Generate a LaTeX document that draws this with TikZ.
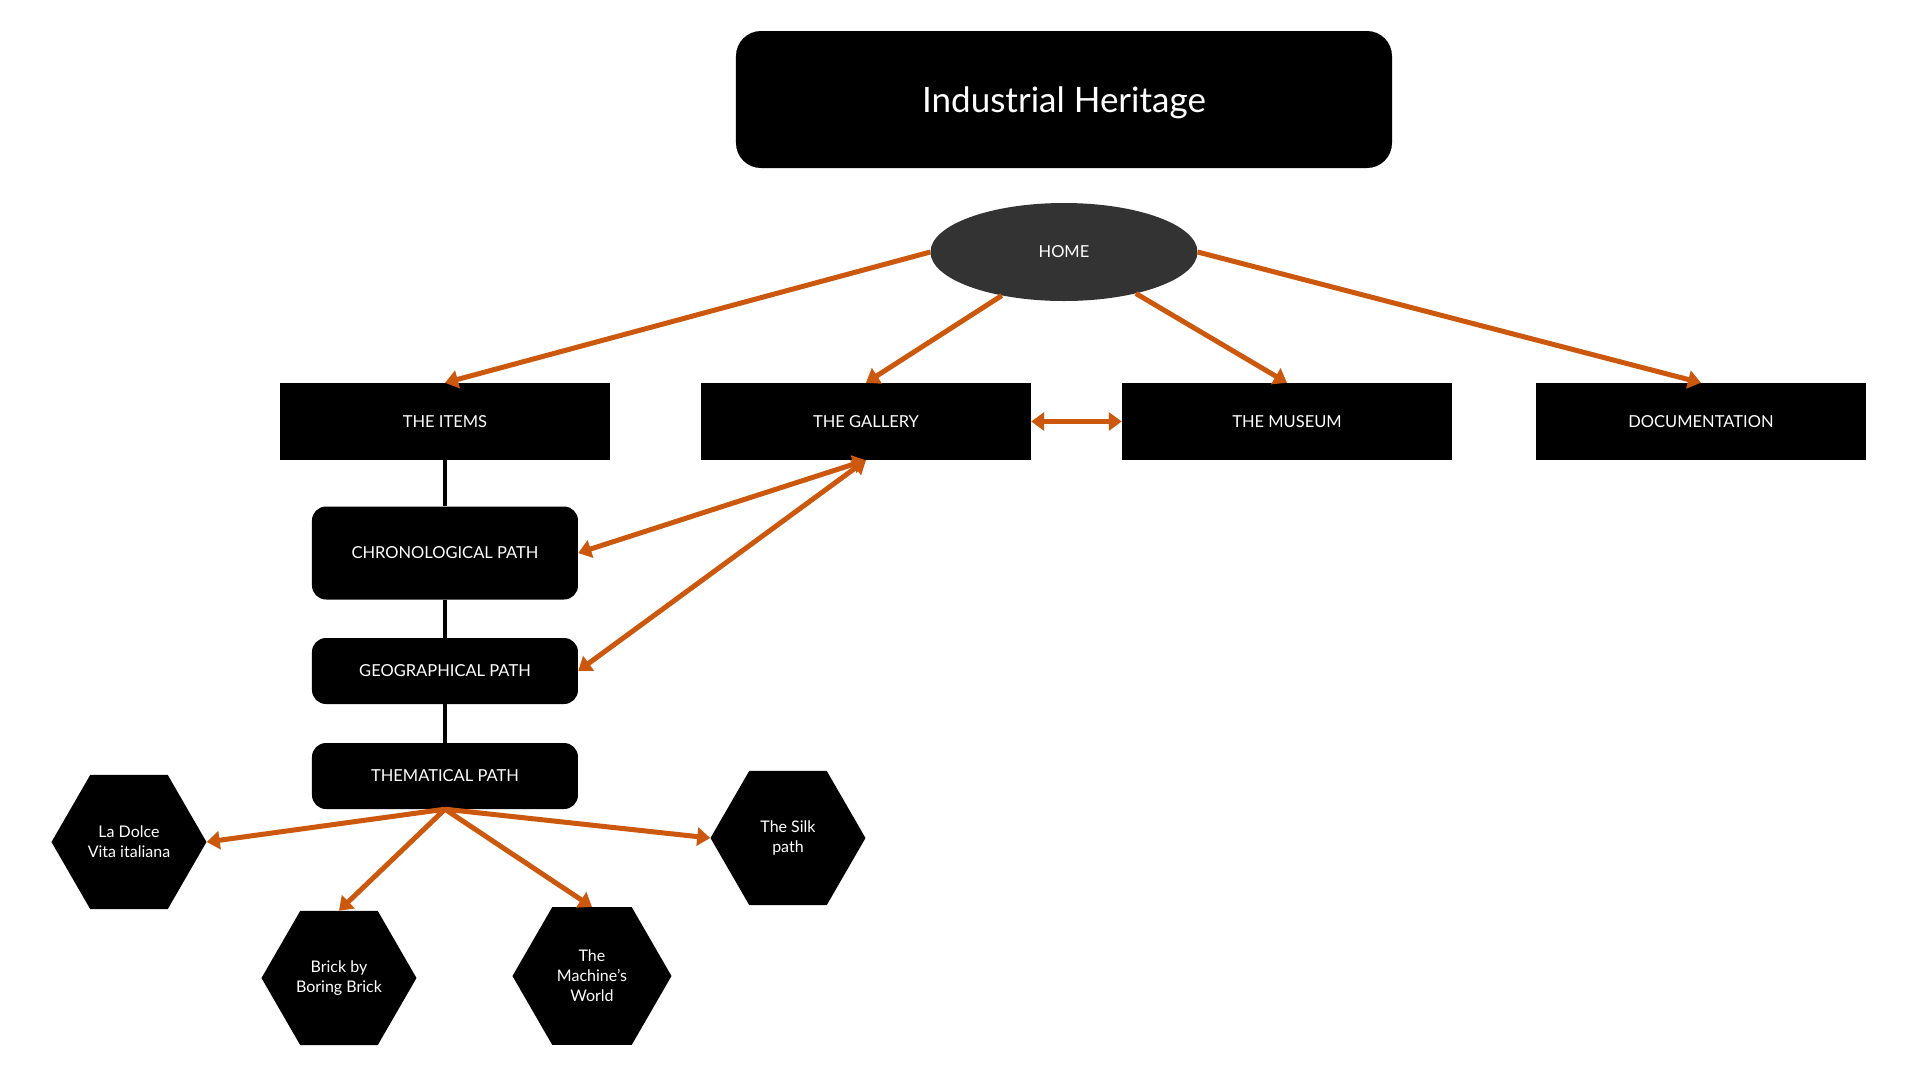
\documentclass[tikz,border=0pt]{standalone}
\usepackage{fontspec}
\setmainfont{Lato}
\usepackage{xcolor}
\usepackage{tikz}
\usetikzlibrary{arrows.meta, shapes, positioning}
\definecolor{rust}{RGB}{204,88,14}
\definecolor{homegrey}{RGB}{51,51,51}
\tikzset{
    titlenode/.style = {fill=black, rectangle, rounded corners=25pt, text=white, inner sep=0em, text depth=0pt, 
      minimum width=656pt, minimum height=137pt, node distance=0em, font=\fontsize{35}{42}\selectfont},
    ellipsenode/.style = {fill=homegrey, ellipse, inner sep=0em, node distance=0em, 
      minimum width=267pt, minimum height=98pt, text=white, font=\fontsize{16.5}{20}\selectfont},
    rectanglenode/.style = {fill=black, rectangle, inner sep=0em, node distance=0em, 
      minimum width=330pt, minimum height=77pt, text=white, font=\fontsize{16.5}{20}\selectfont},
    roundnode/.style = {fill=black, rectangle, rounded corners=14pt, inner sep=0em, node distance=0em, 
      minimum width=266pt, minimum height=66pt, text=white, font=\fontsize{16.5}{20}\selectfont},
    hexnode/.style = {fill=black, regular polygon, regular polygon sides=6, inner sep=0em, 
      minimum size=155pt, node distance=0em, text=white, font=\fontsize{16}{20}\selectfont},
    connect/.style = {rust, line width=5pt, -{Triangle[length=13pt, width=18pt]}},
    biconnect/.style = {rust, line width=5pt, {Triangle[length=13pt, width=18pt]}-{Triangle[length=13pt, width=18pt]}},
    link/.style = {black, line width=4pt},
    every text node part/.style={align=center}
}

\begin{document}
\begin{tikzpicture}[node distance=0em]
    \useasboundingbox (-1064pt, 99.5pt) rectangle (856pt, -980.5pt);

    \node [name=title, titlenode] {Industrial Heritage}; 
    \node [name=home, ellipsenode, below of = title, yshift=-152.5pt] {HOME}; 

    \node [name=items, rectanglenode, below of = home, xshift=-619pt, yshift=-169.5pt] {THE ITEMS}; 
    \node [name=gallery, rectanglenode, right of = items, xshift=421pt] {THE GALLERY}; 
    \node [name=museum, rectanglenode, right of = items, xshift=842pt] {THE MUSEUM}; 
    \node [name=doc, rectanglenode, right of = items, xshift=1256pt] {DOCUMENTATION}; 

    \node [name=chrono, roundnode, minimum height=93pt, below of = items, yshift=-131.5pt] {CHRONOLOGICAL PATH}; 
    \node [name=geo, roundnode, below of = items, yshift=-249.5pt] {GEOGRAPHICAL PATH}; 
    \node [name=them, roundnode, below of = items, yshift=-354.5pt] {THEMATICAL PATH}; 

    \node [name=dolce, hexnode, below of = them, xshift=-316pt, yshift=-66pt] {La Dolce\\Vita italiana}; 
    \node [name=brick, hexnode, below of = them, xshift=-106pt, yshift=-202pt] {Brick by\\Boring Brick}; 
    \node [name=machine, hexnode, minimum size=159pt, below of = them, xshift=147pt, yshift=-200pt] {The\\Machine’s\\World}; 
    \node [name=silk, hexnode, below of = them, xshift=343pt, yshift=-62pt] {The Silk\\path}; 

    \draw (home.west) edge[connect] (items.north); 
    \draw (home.215) edge[connect] (gallery.north); 
    \draw (home.330) edge[connect] (museum.north); 
    \draw (home.east) edge[connect] (doc.north); 
    \draw (gallery.east) edge[biconnect] (museum.west); 

    \draw (chrono.east) edge[biconnect] (gallery.south); 
    \draw (geo.east) edge[biconnect] (gallery.south); 

    \draw (items) edge[link] (chrono); 
    \draw (chrono) edge[link] (geo); 
    \draw (geo) edge[link] (them); 

    \draw (them.south) edge[connect] (dolce.east); 
    \draw (them.south) edge[connect] (brick.north); 
    \draw (them.south) edge[connect] (machine.north); 
    \draw (them.south) edge[connect] (silk.west); 
\end{tikzpicture}
\end{document}
